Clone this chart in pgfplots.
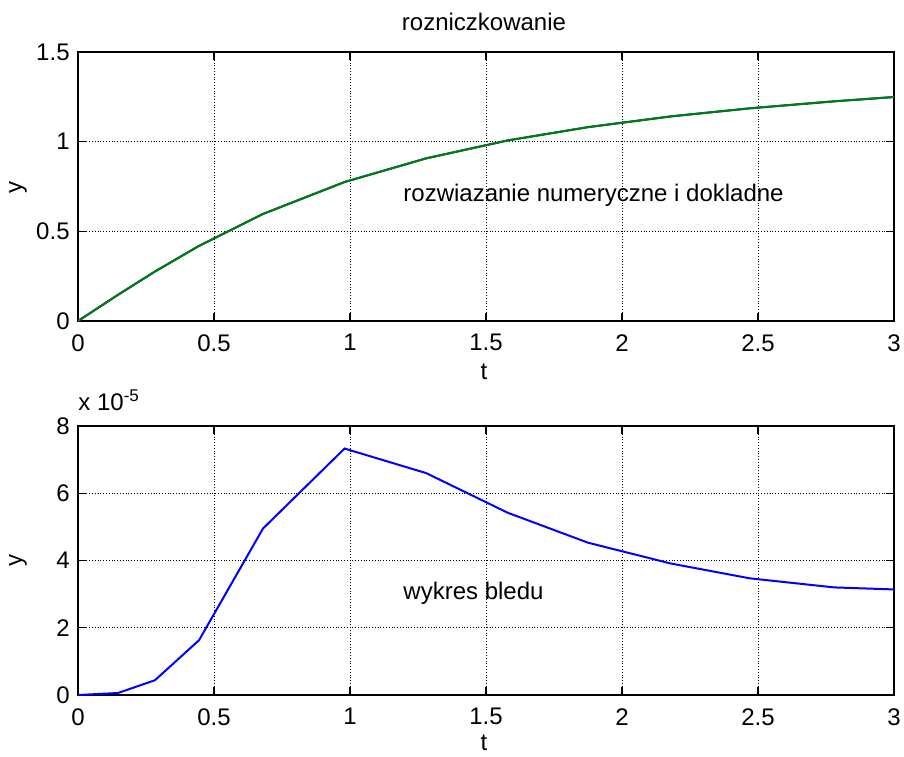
\documentclass[border=0pt]{standalone}
\usepackage{pgfplots}
\pgfplotsset{compat=1.18}
\usepackage{fontspec}
\setmainfont{Liberation Sans}
\begin{document}
\fontsize{12}{14}\selectfont
\begin{tikzpicture}
\useasboundingbox (0,0) rectangle (452pt,-378pt);
\pgfplotsset{
  mstyle/.style={
    scale only axis,
    width=408pt, height=134.5pt,
    anchor=south west,
    xmin=0, xmax=3,
    xtick={0,0.5,1,1.5,2,2.5,3},
    grid=major,
    major grid style={black, densely dotted, line width=0.5pt},
    axis line style={black, line width=1.1pt},
    tick style={black, line width=0.6pt},
    tick align=inside,
    major tick length=4pt,
    xtick pos=both, ytick pos=both,
    tick label style={font=\fontsize{12}{14}\selectfont},
    /pgf/number format/assume math mode=true,
    xticklabel style={yshift=-2.5pt},
  }
}
% upper axis
\begin{axis}[mstyle, at={(39pt,-160.5pt)},
  ymin=0, ymax=1.5, ytick={0,0.5,1,1.5},
  yticklabel style={/pgf/number format/fixed}]
\addplot[blue, line width=1pt] coordinates {
  (0,0) (0.147,0.146) (0.283,0.276) (0.445,0.419) (0.68,0.597)
  (0.98,0.775) (1.28,0.907) (1.58,1.007) (1.875,1.081) (2.18,1.141)
  (2.47,1.186) (2.78,1.225) (3.0,1.249)
};
\addplot[green!50!black, line width=1pt] coordinates {
  (0,0) (0.147,0.146) (0.283,0.276) (0.445,0.419) (0.68,0.597)
  (0.98,0.775) (1.28,0.907) (1.58,1.007) (1.875,1.081) (2.18,1.141)
  (2.47,1.186) (2.78,1.225) (3.0,1.249)
};
\node[anchor=west, inner sep=0pt] at (axis cs:1.195,0.70) {rozwiazanie numeryczne i dokladne};
\end{axis}
% lower axis
\begin{axis}[mstyle, at={(39pt,-347.5pt)},
  ymin=0, ymax=8, ytick={0,2,4,6,8}]
\addplot[blue, line width=1pt] coordinates {
  (0,0) (0.147,0.06) (0.283,0.44) (0.445,1.63) (0.68,4.95)
  (0.98,7.33) (1.28,6.6) (1.58,5.42) (1.875,4.53) (2.18,3.91)
  (2.47,3.47) (2.78,3.2) (3.0,3.14)
};
\node[anchor=west, inner sep=0pt] at (axis cs:1.195,3.02) {wykres bledu};
\end{axis}
\node at (242pt,-11pt) {rozniczkowanie};
\node at (242pt,-186pt) {t};
\node at (242pt,-371.5pt) {t};
\node[rotate=90] at (9pt,-93.5pt) {y};
\node[rotate=90] at (9pt,-280pt) {y};
\node[anchor=west, inner sep=0pt] at (39pt,-200pt) {x 10\raisebox{0.7ex}{\fontsize{8.5}{10}\selectfont -5}};
\end{tikzpicture}
\end{document}
